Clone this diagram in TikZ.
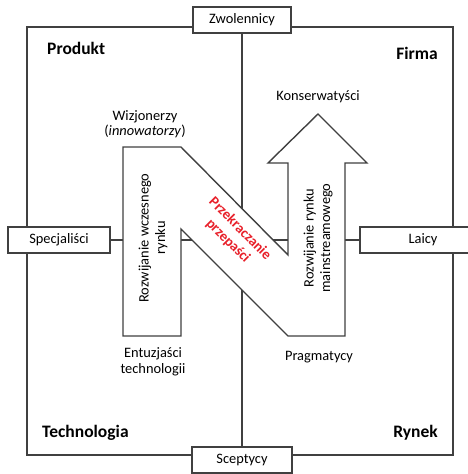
\documentclass[tikz,border=0pt]{standalone}
\usepackage{fontspec}
\setmainfont{Carlito}
\usepackage{xcolor}
\usepackage{tikz}
\usetikzlibrary{positioning}
\definecolor{linegray}{HTML}{404040}
\definecolor{gapred}{HTML}{E8202A}
\tikzset{
  frame/.style   = {draw=linegray, line width=1.4pt},
  side/.style    = {rectangle, draw=linegray, line width=1.4pt, fill=white,
                    minimum height=26pt, inner sep=0pt,
                    font=\fontsize{14.4}{16}\selectfont},
  corner/.style  = {font=\fontsize{17.5}{19}\selectfont\bfseries, inner sep=0pt},
  group/.style   = {align=center, inner sep=0pt,
                    font=\fontsize{14.4}{15.5}\selectfont},
  path/.style    = {align=center, inner sep=0pt, rotate=90,
                    font=\fontsize{14.4}{16.5}\selectfont},
  chasm/.style   = {align=center, inner sep=0pt, rotate=-45, text=gapred,
                    font=\fontsize{14.4}{17}\selectfont\bfseries},
}

\begin{document}
\begin{tikzpicture}[x=1pt,y=-1pt]
  \useasboundingbox (0,0) rectangle (468,474);
  \clip (0,0) rectangle (468,474);

  \draw[frame] (27,27) rectangle (453,455);

  \node[side,minimum width=98pt]  (fans)    at (242,20)  {Zwolennicy};
  \node[side,minimum width=100pt] (sceptic) at (242,460) {Sceptycy};
  \node[side,minimum width=102pt] (expert)  at (59,240)  {Specjaliści};
  \node[side,minimum width=126pt] (lay)     at (423,240) {Laicy};

  \draw[frame] (fans) -- (sceptic);
  \draw[frame] (expert) -- (lay);

  % the N with the arrow
  \draw[frame,fill=white,line join=miter]
    (123,147) -- (181,147) -- (288,255) -- (288,163) -- (268,163)
    -- (318,114) -- (367,163) -- (345,163) -- (345,336) -- (288,336)
    -- (181,229) -- (181,336) -- (123,336) -- cycle;

  \node[corner,anchor=west] (product) at (47,48)   {Produkt};
  \node[corner,anchor=east] (firm)    at (438,53)  {Firma};
  \node[corner,anchor=west] (tech)    at (42,433)  {Technologia};
  \node[corner,anchor=east] (market)  at (438,433) {Rynek};

  \node[group] (visionary)  at (145,124) {Wizjonerzy\\(\textit{innowatorzy})};
  \node[group] (conserv)    at (318,97)  {Konserwatyści};
  \node[group] (enthus)     at (153,362) {Entuzjaści\\technologii};
  \node[group] (pragmatic)  at (319,357) {Pragmatycy};

  \node[path] (early) at (153,238) {Rozwijanie wczesnego\\rynku};
  \node[path] (main)  at (318,238) {Rozwijanie rynku\\mainstreamowego};
  \node[chasm] (gap)  at (234,235) {Przekraczanie\\przepaści};
\end{tikzpicture}
\end{document}
